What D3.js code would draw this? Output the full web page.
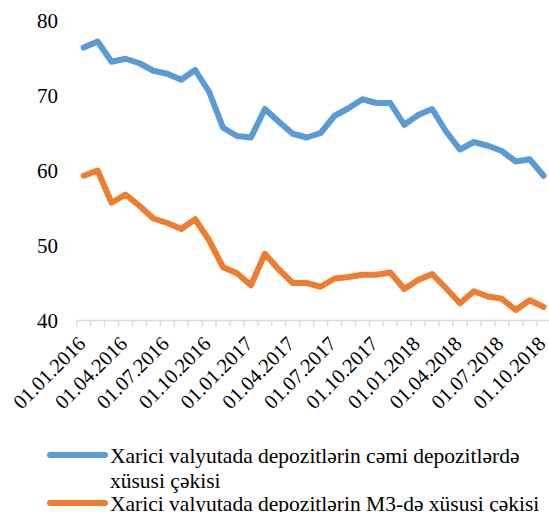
<!DOCTYPE html>
<html>
<head>
<meta charset="utf-8">
<script src="https://cdn.jsdelivr.net/npm/d3@7"></script>
<style>
  body { margin: 0; background: #fff; }
</style>
</head>
<body>
<svg id="chart"></svg>
<script>
const dates = [
  "01.01.2016", "01.02.2016", "01.03.2016", "01.04.2016", "01.05.2016", "01.06.2016",
  "01.07.2016", "01.08.2016", "01.09.2016", "01.10.2016", "01.11.2016", "01.12.2016",
  "01.01.2017", "01.02.2017", "01.03.2017", "01.04.2017", "01.05.2017", "01.06.2017",
  "01.07.2017", "01.08.2017", "01.09.2017", "01.10.2017", "01.11.2017", "01.12.2017",
  "01.01.2018", "01.02.2018", "01.03.2018", "01.04.2018", "01.05.2018", "01.06.2018",
  "01.07.2018", "01.08.2018", "01.09.2018", "01.10.2018"
];

// share of FX deposits in total deposits
const depositShare = [
  76.4, 77.2, 74.5, 74.9, 74.3, 73.3, 72.9, 72.1, 73.4, 70.5, 65.7, 64.6,
  64.4, 68.2, 66.5, 64.9, 64.4, 65.0, 67.3, 68.3, 69.5, 69.0, 69.0, 66.1,
  67.4, 68.2, 65.2, 62.8, 63.8, 63.3, 62.6, 61.2, 61.5, 59.3
];

// share of FX deposits in M3
const m3Share = [
  59.3, 60.0, 55.7, 56.8, 55.3, 53.6, 53.0, 52.2, 53.5, 50.7, 47.1, 46.3,
  44.7, 48.9, 46.8, 45.0, 45.0, 44.5, 45.6, 45.8, 46.1, 46.1, 46.4, 44.2,
  45.4, 46.2, 44.3, 42.3, 43.9, 43.2, 42.9, 41.4, 42.7, 41.8
];

const seriesNames = [
  "Xarici valyutada depozitlərin cəmi depozitlərdə xüsusi çəkisi",
  "Xarici valyutada depozitlərin M3-də xüsusi çəkisi"
];
const seriesColors = ["#5B9BD5", "#ED7D31"];
const yTicks = [40, 50, 60, 70, 80];
const labelEvery = 3;

const width = 549, height = 512;
const font = "'Liberation Serif', Tinos, 'Times New Roman', 'DejaVu Serif', serif";
const svg = d3.select("#chart")
  .attr("width", width)
  .attr("height", height)
  .attr("font-family", font);

const x = d3.scaleBand().domain(dates).range([76.7, 550.6]);
const y = d3.scaleLinear().domain([40, 80]).range([320.5, 20.5]);
const bw = x.bandwidth();
const cx = d => x(d) + bw / 2;

// y labels (no axis line)
svg.append("g")
  .selectAll("text")
  .data(yTicks)
  .join("text")
  .attr("x", 58)
  .attr("y", d => y(d))
  .attr("dy", "0.35em")
  .attr("text-anchor", "end")
  .attr("font-size", 21)
  .text(d => d);

// x axis line + tick marks between categories
const axisY = y(40);
const xa = svg.append("g").attr("stroke", "#D9DCE3").attr("stroke-width", 1.5);
xa.append("line")
  .attr("x1", x.range()[0]).attr("x2", x.range()[1])
  .attr("y1", axisY).attr("y2", axisY);
xa.selectAll("line.tick")
  .data(dates.concat(["end"]))
  .join("line")
  .attr("class", "tick")
  .attr("x1", (d, i) => x.range()[0] + i * x.step())
  .attr("x2", (d, i) => x.range()[0] + i * x.step())
  .attr("y1", axisY)
  .attr("y2", axisY + 6);

// rotated date labels, every third month
svg.append("g")
  .selectAll("text")
  .data(dates.filter((d, i) => i % labelEvery === 0))
  .join("text")
  .attr("transform", d => "translate(" + (cx(d) + 3) + "," + 345 + ") rotate(-45)")
  .attr("text-anchor", "end")
  .attr("font-size", 20.5)
  .text(d => d);

// lines
const line = d3.line()
  .x((d, i) => cx(dates[i]))
  .y(d => y(d));

[depositShare, m3Share].forEach((s, k) => {
  svg.append("path")
    .datum(s)
    .attr("fill", "none")
    .attr("stroke", seriesColors[k])
    .attr("stroke-width", 6)
    .attr("stroke-linejoin", "round")
    .attr("stroke-linecap", "round")
    .attr("d", line);
});

// legend
const legendRows = [
  { y: 455, lines: ["Xarici valyutada depozitlərin cəmi depozitlərdə", "xüsusi çəkisi"] },
  { y: 503, lines: [seriesNames[1]] }
];
const lg = svg.append("g");
legendRows.forEach((r, k) => {
  lg.append("line")
    .attr("x1", 50).attr("x2", 105)
    .attr("y1", r.y).attr("y2", r.y)
    .attr("stroke", seriesColors[k])
    .attr("stroke-width", 6)
    .attr("stroke-linecap", "round");
  const t = lg.append("text")
    .attr("x", 110)
    .attr("y", r.y + 7.5)
    .attr("font-size", 21.5);
  r.lines.forEach((ln, j) => {
    t.append("tspan").attr("x", 110).attr("dy", j === 0 ? 0 : 25).text(ln);
  });
});
</script>
</body>
</html>
